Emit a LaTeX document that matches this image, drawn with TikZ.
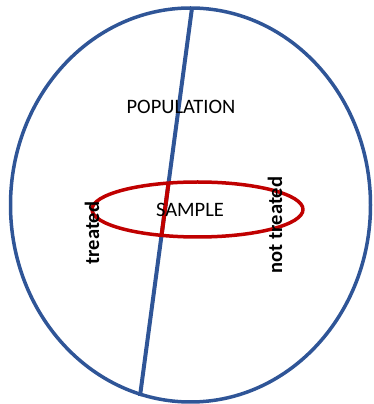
\documentclass[tikz,border=0pt]{standalone}
\usepackage{fontspec}
\setmainfont{Carlito}
\definecolor{popblue}{HTML}{2F5597}
\definecolor{samplered}{HTML}{C00000}

\begin{document}
\begin{tikzpicture}[x=1pt, y=1pt, line join=round]
        \useasboundingbox (0,0) rectangle (373,404);
        % population and dividing line
        \coordinate (O) at (190.5,199);
        \coordinate (T) at (192,396);
        \coordinate (B) at (140,8);
        \draw[popblue, line width=3.5pt] (O) ellipse [x radius=180, y radius=197];
        \draw[popblue, line width=4pt] (T) -- (B);
        
        % sample, with the line red inside it
        \coordinate (S) at (197.5,194.5);
        \begin{scope}
            \clip (S) ellipse [x radius=105.5, y radius=27.5];
            \draw[samplered, line width=4pt] (T) -- (B);
        \end{scope}
        \draw[samplered, line width=3.5pt] (S) ellipse [x radius=105.5, y radius=27.5];
        
        % labels
        \node[font=\fontsize{20.5}{24}\selectfont] (pop) at (181,297) {POPULATION};
        \node[font=\fontsize{20.5}{24}\selectfont] (samp) at (190,194) {SAMPLE};
        \node[font=\fontsize{20.5}{24}\selectfont\bfseries, rotate=90] (tr) at (92,171) {treated};
        \node[font=\fontsize{20.5}{24}\selectfont\bfseries, rotate=90] (nt) at (275,179) {not treated};
    \end{tikzpicture}
\end{document}
